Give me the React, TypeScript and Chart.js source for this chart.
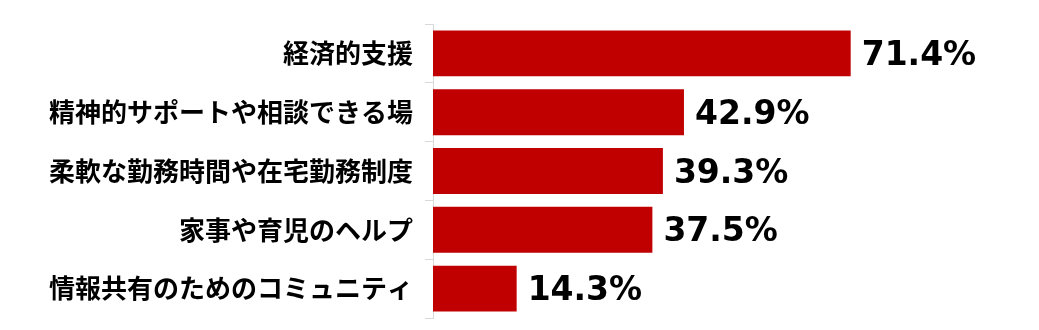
import { useEffect, useRef } from "react";
import { Chart, registerables } from "chart.js";

Chart.register(...registerables);

const categories = [
  "経済的支援",
  "精神的サポートや相談できる場",
  "柔軟な勤務時間や在宅勤務制度",
  "家事や育児のヘルプ",
  "情報共有のためのコミュニティ",
];
const values = [71.4, 42.9, 39.3, 37.5, 14.3];

const labelPlugin = {
  id: "barLabels",
  afterDatasetsDraw(chart: any) {
    const ctx = chart.ctx;
    const meta = chart.getDatasetMeta(0);
    ctx.save();
    ctx.font = "bold 33px 'DejaVu Sans'";
    ctx.fillStyle = "#000000";
    ctx.textAlign = "left";
    ctx.textBaseline = "middle";
    meta.data.forEach((bar: any, i: number) => {
      const v = chart.data.datasets[0].data[i] as number;
      ctx.fillText(v.toFixed(1) + "%", bar.x + 11, bar.y + 3);
    });
    ctx.restore();
  },
};

export default function App() {
  const ref = useRef<HTMLCanvasElement>(null);
  useEffect(() => {
    if (!ref.current) return;
    const chart = new Chart(ref.current, {
      type: "bar",
      data: {
        labels: categories,
        datasets: [
          {
            data: values,
            backgroundColor: "#C00000",
            categoryPercentage: 1,
            barPercentage: 0.78,
          },
        ],
      },
      options: {
        indexAxis: "y",
        animation: false,
        responsive: true,
        maintainAspectRatio: false,
        layout: { padding: { top: 16, bottom: 4, right: 13, left: 0 } },
        plugins: { legend: { display: false }, tooltip: { enabled: false } },
        scales: {
          x: { display: false, min: 0, max: 100 },
          y: {
            afterFit(scale: any) {
              scale.width = 425;
              scale.paddingTop = 0;
              scale.paddingBottom = 0;
            },
            border: { display: true, color: "#D9D9D9", width: 1 },
            grid: {
              offset: true,
              drawOnChartArea: false,
              drawTicks: true,
              tickLength: 8,
              color: "#D9D9D9",
            },
            ticks: {
              padding: 12,
              color: "#000000",
              font: { family: "'Noto Sans CJK JP'", size: 26, weight: "bold" },
            },
          },
        },
      },
      plugins: [labelPlugin],
    });
    return () => chart.destroy();
  }, []);
  return (
    <div style={{ width: 1023, height: 314 }}>
      <canvas ref={ref} />
    </div>
  );
}
